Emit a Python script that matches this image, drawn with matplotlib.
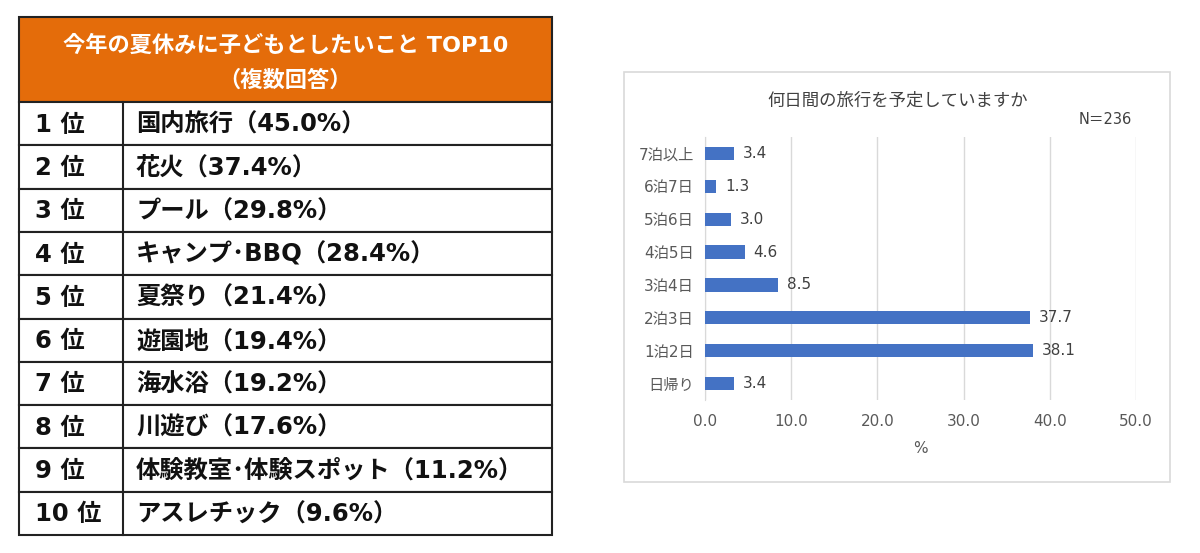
import matplotlib.pyplot as plt
from matplotlib.patches import Rectangle

# DejaVu gives wide Latin digits (close to the original), Noto covers the Japanese
plt.rcParams['font.family'] = ['DejaVu Sans', 'Noto Sans CJK JP']

# table data
table_title = ["今年の夏休みに子どもとしたいこと TOP10", "（複数回答）"]
ranks = ["1 位", "2 位", "3 位", "4 位", "5 位", "6 位", "7 位", "8 位", "9 位", "10 位"]
items = ["国内旅行（45.0%）", "花火（37.4%）", "プール（29.8%）", "キャンプ･BBQ（28.4%）",
         "夏祭り（21.4%）", "遊園地（19.4%）", "海水浴（19.2%）", "川遊び（17.6%）",
         "体験教室･体験スポット（11.2%）", "アスレチック（9.6%）"]

# bar chart data
chart_title = "何日間の旅行を予定していますか"
n_label = "N＝236"
durations = ["日帰り", "1泊2日", "2泊3日", "3泊4日", "4泊5日", "5泊6日", "6泊7日", "7泊以上"]
shares = [3.4, 38.1, 37.7, 8.5, 4.6, 3.0, 1.3, 3.4]

W, H = 1200, 553
fig = plt.figure(figsize=(12, 5.53), dpi=100)
fig.patch.set_facecolor('white')

# ---- table (pixel coords) ----
tab = fig.add_axes([0, 0, 1, 1])
tab.set_xlim(0, W)
tab.set_ylim(H, 0)
tab.axis('off')

x0, x1, xdiv = 19, 552, 123
y_top, y_head = 17, 102
row_h = (535 - y_head) / len(ranks)
tab.add_patch(Rectangle((x0, y_top), x1 - x0, y_head - y_top, facecolor='#E46C0A',
                        edgecolor='#222222', lw=1.5))
tab.text((x0 + x1) / 2, 45, table_title[0], color='white', fontsize=16,
         fontweight='bold', ha='center', va='center')
tab.text((x0 + x1) / 2, 80, table_title[1], color='white', fontsize=16,
         fontweight='bold', ha='center', va='center')
for i, (r, it) in enumerate(zip(ranks, items)):
    yt = y_head + i * row_h
    tab.add_patch(Rectangle((x0, yt), x1 - x0, row_h, facecolor='white',
                            edgecolor='#222222', lw=1.5))
    tab.plot([xdiv, xdiv], [yt, yt + row_h], color='#222222', lw=1.5)
    tab.text(35, yt + row_h / 2 + 1, r, fontsize=17.5, fontweight='bold',
             ha='left', va='center', color='#111111')
    tab.text(136, yt + row_h / 2 + 1, it, fontsize=17.5, fontweight='bold',
             ha='left', va='center', color='#111111')

# chart frame
tab.add_patch(Rectangle((624, 72), 1170 - 624, 482 - 72, facecolor='white',
                        edgecolor='#D9D9D9', lw=1.2))
tab.text(898, 101, chart_title, fontsize=12.5, ha='center', va='center', color='#404040')
tab.text(1105, 119, n_label, fontsize=10.5, ha='center', va='center', color='#404040')

# ---- bar chart ----
left, right, top, bottom = 705, 1136, 137, 400
ax = fig.add_axes([left / W, 1 - bottom / H, (right - left) / W, (bottom - top) / H])
ax.set_zorder(2)
ax.patch.set_alpha(0)
ypos = list(range(len(durations)))
bars = ax.barh(ypos, shares, height=0.4, color='#4472C4', zorder=3)
ax.set_xlim(0, 50)
ax.set_ylim(-0.5, len(durations) - 0.5)
ax.set_xticks([0, 10, 20, 30, 40, 50])
ax.set_xticklabels([f"{v:.1f}" for v in [0, 10, 20, 30, 40, 50]])
ax.set_yticks(ypos)
ax.set_yticklabels(durations)
ax.tick_params(length=0, labelsize=11, colors='#595959', pad=8)
ax.tick_params(axis='x', pad=10)
ax.xaxis.grid(True, color='#D9D9D9', lw=1)
ax.set_axisbelow(True)
for s in ['top', 'right', 'bottom']:
    ax.spines[s].set_visible(False)
ax.spines['left'].set_color('#D9D9D9')
for b, v in zip(bars, shares):
    ax.text(v + 1.0, b.get_y() + b.get_height() / 2, f"{v:.1f}", fontsize=11,
            va='center', ha='left', color='#404040')
ax.set_xlabel('%', fontsize=11, color='#595959', labelpad=9)

fig.savefig('out.png', dpi=100, facecolor='white')
